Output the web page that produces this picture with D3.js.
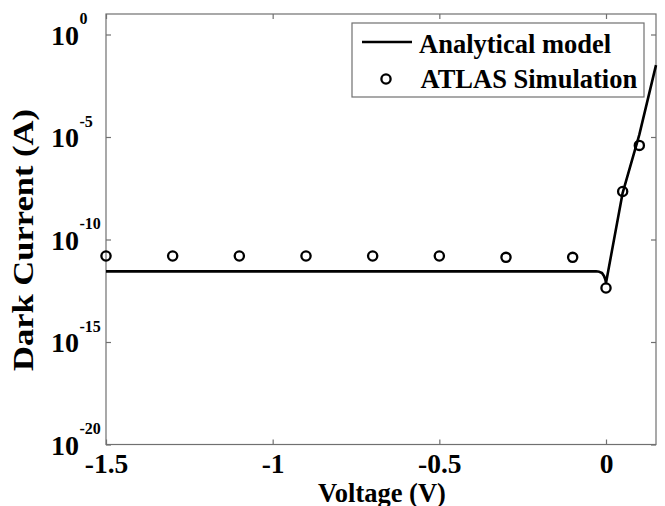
<!DOCTYPE html>
<html>
<head>
<meta charset="utf-8">
<script src="https://cdn.jsdelivr.net/npm/d3@7"></script>
<style>
  html, body { margin: 0; padding: 0; background: #ffffff; }
  svg { display: block; }
  text { font-family: "Liberation Serif", "Times New Roman", serif; font-weight: bold; fill: #000; }
</style>
</head>
<body>
<svg id="chart" width="665" height="506"></svg>
<script>
// ---- data ----
const modelVoltage = [-1.5, -0.03, -0.02, -0.012, -0.006, -0.002, 0, 0.05, 0.1, 0.15];
const modelCurrent = [2.8e-12, 2.8e-12, 2.65e-12, 2.32e-12, 1.66e-12, 1.12e-12, 7.6e-13, 1.9e-8, 1.3e-5, 3.2e-2];
const simVoltage = [-1.5, -1.3, -1.1, -0.9, -0.7, -0.5, -0.3, -0.1, 0, 0.05, 0.1];
const simCurrent = [1.57e-11, 1.57e-11, 1.57e-11, 1.57e-11, 1.57e-11, 1.57e-11, 1.35e-11, 1.35e-11, 4.3e-13, 2.2e-8, 3.9e-6];
const xTicks = [-1.5, -1, -0.5, 0];
const xTickLabels = ["-1.5", "-1", "-0.5", "0"];
const yTicks = [1e0, 1e-5, 1e-10, 1e-15, 1e-20];
const yTickExponents = ["0", "-5", "-10", "-15", "-20"];
const seriesNames = ["Analytical model", "ATLAS Simulation"];
const xTitle = "Voltage (V)";
const yTitle = "Dark Current (A)";

// ---- layout ----
const L = 106, R = 656, T = 14, B = 444.5;
const svg = d3.select("#chart");
const axisColor = "#707070";

const x = d3.scaleLinear().domain([-1.5, 0.15]).range([L, R]);
const y = d3.scaleLog().domain([1e-20, 1e1]).range([B, T]);

// box
svg.append("rect").attr("x", L).attr("y", T).attr("width", R - L).attr("height", B - T)
  .attr("fill", "none").attr("stroke", axisColor).attr("stroke-width", 1.2);

function styleAxis(g) {
  g.select(".domain").remove();
  g.selectAll(".tick line").attr("stroke", axisColor).attr("stroke-width", 1.2);
}

// bottom axis
const xAxis = svg.append("g").attr("transform", `translate(0,${B})`)
  .call(d3.axisBottom(x).tickValues(xTicks).tickSizeInner(-5).tickSizeOuter(0).tickPadding(0)
    .tickFormat((d, i) => xTickLabels[i]));
styleAxis(xAxis);
xAxis.selectAll(".tick text").attr("y", 28.5).attr("dy", 0).attr("font-size", 27.5)
  .style("font-family", "'Liberation Serif', serif").style("font-weight", "bold").attr("fill", "#000");

// top axis (ticks only)
const xAxisTop = svg.append("g").attr("transform", `translate(0,${T})`)
  .call(d3.axisTop(x).tickValues(xTicks).tickSizeInner(-5).tickSizeOuter(0).tickFormat(""));
styleAxis(xAxisTop);

// left axis
const yAxis = svg.append("g").attr("transform", `translate(${L},0)`)
  .call(d3.axisLeft(y).tickValues(yTicks).tickSizeInner(-5).tickSizeOuter(0).tickFormat(""));
styleAxis(yAxis);
yAxis.selectAll(".tick").each(function(d, i) {
  const g = d3.select(this);
  g.append("text").attr("x", -27).attr("y", 9.5).attr("text-anchor", "end")
    .attr("font-size", 28).text("10");
  g.append("text").attr("x", -26.5).attr("y", -11).attr("text-anchor", "start")
    .attr("font-size", 16).text(yTickExponents[i]);
});

// right axis (ticks only)
const yAxisRight = svg.append("g").attr("transform", `translate(${R},0)`)
  .call(d3.axisRight(y).tickValues(yTicks).tickSizeInner(-5).tickSizeOuter(0).tickFormat(""));
styleAxis(yAxisRight);

// clip
svg.append("clipPath").attr("id", "clip").append("rect")
  .attr("x", L - 6).attr("y", T - 6).attr("width", R - L + 12).attr("height", B - T + 12);

// model line
const modelData = modelVoltage.map((v, i) => [v, modelCurrent[i]]);
svg.append("path").datum(modelData)
  .attr("clip-path", "url(#clip)")
  .attr("fill", "none").attr("stroke", "#000").attr("stroke-width", 2.6)
  .attr("stroke-linejoin", "round")
  .attr("d", d3.line().x(d => x(d[0])).y(d => y(d[1])));

// simulation markers
const simData = simVoltage.map((v, i) => [v, simCurrent[i]]);
svg.append("g").selectAll("circle").data(simData).join("circle")
  .attr("cx", d => x(d[0])).attr("cy", d => y(d[1])).attr("r", 4.6)
  .attr("fill", "none").attr("stroke", "#000").attr("stroke-width", 2.3);

// legend
const lg = svg.append("g");
lg.append("rect").attr("x", 352).attr("y", 23).attr("width", 292).attr("height", 74)
  .attr("fill", "#fff").attr("stroke", axisColor).attr("stroke-width", 1.2);
lg.append("line").attr("x1", 362).attr("x2", 412).attr("y1", 42).attr("y2", 42)
  .attr("stroke", "#000").attr("stroke-width", 2.6);
lg.append("text").attr("x", 419).attr("y", 53).attr("font-size", 26.5).text(seriesNames[0]);
lg.append("circle").attr("cx", 386).attr("cy", 79).attr("r", 4.6)
  .attr("fill", "none").attr("stroke", "#000").attr("stroke-width", 2.3);
lg.append("text").attr("x", 420.5).attr("y", 88).attr("font-size", 26.5).text(seriesNames[1]);

// axis titles
svg.append("text").attr("x", (L + R) / 2 + 1).attr("y", 501.5).attr("text-anchor", "middle")
  .attr("font-size", 26.5).text(xTitle);
svg.append("text").attr("transform", `translate(33,240) rotate(-90)`)
  .attr("text-anchor", "middle").attr("font-size", 30)
  .attr("textLength", 262).attr("lengthAdjust", "spacingAndGlyphs").text(yTitle);
</script>
</body>
</html>
